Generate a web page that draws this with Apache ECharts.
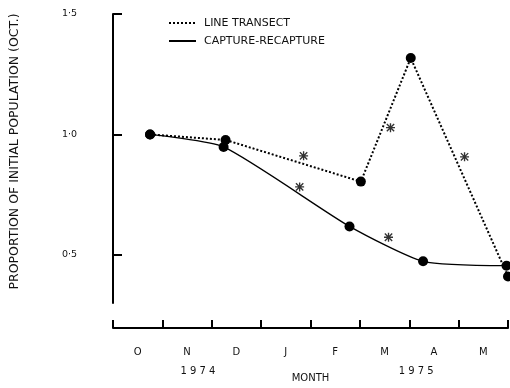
<!DOCTYPE html>
<html>
<head>
<meta charset="utf-8">
<script src="https://cdn.jsdelivr.net/npm/echarts@6/dist/echarts.min.js"></script>
<style>html,body{margin:0;padding:0;background:#fff}#c{width:510px;height:388px}</style>
</head>
<body>
<div id="c"></div>
<script>
// Month axis: 0 = start of October 1974, 1 unit = 1 month
var monthLabels = ['O', 'N', 'D', 'J', 'F', 'M', 'A', 'M'];
var yearLabels = ['1 9 7 4', '1 9 7 5'];
var yearPositions = [1.72, 6.14];
var yTickValues = [0.5, 1.0, 1.5];

var lineTransect = [[0.75, 1.0], [2.28, 0.977], [5.02, 0.804], [6.03, 1.317], [8.0, 0.41]];
var captureRecapture = [[0.75, 1.0], [2.24, 0.948], [4.79, 0.618], [6.28, 0.473], [7.97, 0.455]];
var asterisks = [[3.86, 0.911], [3.78, 0.782], [5.62, 1.028], [5.58, 0.573], [7.12, 0.907]];

var FONT = 'DejaVu Sans';
var starPath = 'path://M8.5,0L11.5,0L11.5,20L8.5,20Z M0,8.5L20,8.5L20,11.5L0,11.5Z M0.8,2.9L2.9,0.8L19.2,17.1L17.1,19.2Z M17.1,0.8L19.2,2.9L2.9,19.2L0.8,17.1Z';

var chart = echarts.init(document.getElementById('c'), null, {renderer: 'canvas'});
chart.setOption({
  animation: false,
  backgroundColor: '#fff',
  grid: {left: 112, right: 2, top: 14, bottom: 76.4, containLabel: false},
  legend: {
    orient: 'vertical', left: 163, top: 11,
    itemWidth: 27, itemHeight: 4, itemGap: 4,
    itemStyle: {opacity: 0},
    textStyle: {fontFamily: FONT, fontSize: 11, color: '#111', lineHeight: 14, padding: [0, 0, 0, 3]},
    data: ['LINE TRANSECT', 'CAPTURE-RECAPTURE']
  },
  xAxis: [
    {
      type: 'value', min: 0, max: 8, interval: 1, offset: 25,
      axisLine: {show: true, lineStyle: {color: '#000', width: 2}},
      axisTick: {show: true, inside: true, length: 8, lineStyle: {color: '#000', width: 2}},
      axisLabel: {show: false}, splitLine: {show: false},
      name: 'MONTH', nameLocation: 'middle', nameGap: 45,
      nameTextStyle: {fontFamily: FONT, fontSize: 10, color: '#111'}
    },
    {
      type: 'category', data: monthLabels, boundaryGap: true, offset: 25, position: 'bottom',
      axisLine: {show: false}, axisTick: {show: false}, splitLine: {show: false},
      axisLabel: {margin: 19, fontFamily: FONT, fontSize: 10, color: '#111'}
    },
    {
      type: 'value', min: 0, max: 8, offset: 25, position: 'bottom',
      axisLine: {show: false}, axisTick: {show: false}, splitLine: {show: false},
      axisLabel: {
        customValues: yearPositions, margin: 38, fontFamily: FONT, fontSize: 10, color: '#111',
        formatter: function (v) { return yearLabels[yearPositions.indexOf(v)]; }
      }
    }
  ],
  yAxis: {
    type: 'value', min: 0.3, max: 1.5, offset: 23,
    axisLine: {show: true, lineStyle: {color: '#000', width: 2}},
    axisTick: {show: true, inside: true, length: 9, customValues: yTickValues, lineStyle: {color: '#000', width: 2}},
    axisLabel: {
      customValues: yTickValues, margin: 13, fontFamily: FONT, fontSize: 9.5, color: '#111',
      formatter: function (v) { return v.toFixed(1).replace('.', '\u00B7'); }
    },
    splitLine: {show: false},
    name: 'PROPORTION OF INITIAL POPULATION (OCT.)', nameLocation: 'middle', nameGap: 69,
    nameTextStyle: {fontFamily: FONT, fontSize: 12.5, color: '#111', padding: [0, 0, 0, 14]}
  },
  series: [
    {
      name: 'LINE TRANSECT', type: 'line', data: lineTransect, clip: false,
      symbol: 'circle', symbolSize: 10, itemStyle: {color: '#000'},
      lineStyle: {color: '#000', width: 2, type: [2, 2]}, z: 3
    },
    {
      name: 'CAPTURE-RECAPTURE', type: 'line', data: captureRecapture, clip: false, smooth: 0.2,
      symbol: 'circle', symbolSize: 10, itemStyle: {color: '#000'},
      lineStyle: {color: '#000', width: 1.3, type: 'solid'}, z: 3
    },
    {
      name: 'significance', type: 'scatter', data: asterisks, symbol: starPath, symbolSize: 9,
      itemStyle: {color: '#000'}, z: 4
    }
  ]
});
</script>
</body>
</html>
